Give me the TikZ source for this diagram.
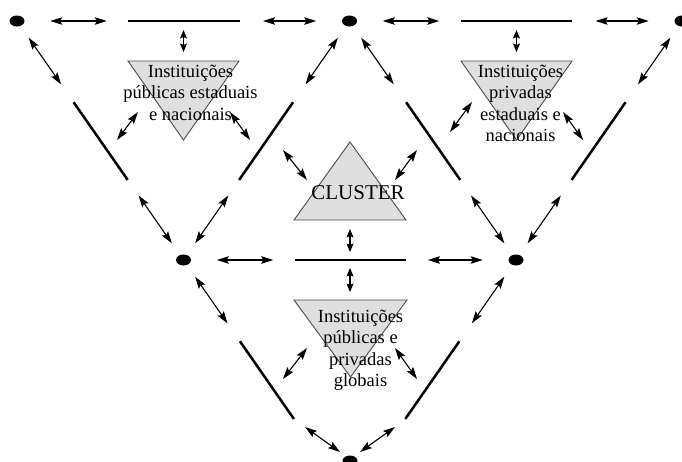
\documentclass[tikz,border=0pt]{standalone}
\usepackage{fontspec}
\setmainfont{Liberation Serif}
\usetikzlibrary{arrows.meta,calc,shapes.geometric}

\tikzset{
  link/.style={line width=1.1pt,{Stealth[length=12pt,width=7.5pt,inset=2pt]}-{Stealth[length=12pt,width=7.5pt,inset=2pt]}},
  shortlink/.style={line width=1.1pt,{Stealth[length=8.5pt,width=7pt,inset=1.5pt]}-{Stealth[length=8.5pt,width=7pt,inset=1.5pt]}},
  bar/.style={line width=2.5pt},
  vertex/.style={shape=ellipse,fill=black,inner sep=0pt,minimum width=15pt,minimum height=11pt},
  block/.style={fill=gray!25,draw=gray!60!black,line width=0.9pt,line join=miter},
  label/.style={font=\fontsize{18.5}{21.5}\selectfont,align=center,inner sep=0pt,anchor=north},
}

% one side of a triangle: arrow, bar, arrow at the given fractions
\newcommand\splitside[8]{%
  \draw[link] ($(#1)!#3!(#2)$) -- ($(#1)!#4!(#2)$);
  \draw[bar]  ($(#1)!#5!(#2)$) -- ($(#1)!#6!(#2)$);
  \draw[link] ($(#1)!#7!(#2)$) -- ($(#1)!#8!(#2)$);
}

\begin{document}
\begin{tikzpicture}[x=1pt,y=-1pt]
\useasboundingbox (0,0) rectangle (682,461);

% corner points of the grid
\node[vertex] (T1) at (17,21) {};
\node[vertex] (T2) at (349.5,21) {};
\node[vertex] (T3) at (682,21) {};
\node[vertex] (M1) at (183.5,260) {};
\node[vertex] (M2) at (516,260) {};
\node[vertex] (B)  at (350,461) {};
\coordinate (V) at (349.5,499);

% grey triangles
\draw[block] (128,61) -- (239,61) -- (183.5,140) -- cycle;
\draw[block] (461,61) -- (572,61) -- (516.5,140) -- cycle;
\draw[block] (294,220) -- (406,220) -- (350,142) -- cycle;
\draw[block] (294,300) -- (407,300) -- (350.5,377) -- cycle;

% labels
\node[label] (pub) at (190.5,64.4) {Instituições\\públicas estaduais\\e nacionais};
\node[label] (priv) at (520.5,64.4) {Instituições\\privadas\\estaduais e\\nacionais};
\node[label] (glob) at (360.5,309.4) {Instituições\\públicas e\\privadas\\globais};
\node[font=\fontsize{21}{24}\selectfont,inner sep=0pt,anchor=base] (cl) at (358,199) {CLUSTER};

% horizontal sides
\splitside{T1}{T2}{0.10}{0.27}{0.335}{0.67}{0.74}{0.90}
\splitside{T2}{T3}{0.10}{0.27}{0.335}{0.67}{0.74}{0.90}
\splitside{M1}{M2}{0.10}{0.27}{0.335}{0.67}{0.735}{0.90}

% slanted sides of the two upper triangles
\splitside{T1}{M1}{0.07}{0.265}{0.34}{0.665}{0.73}{0.93}
\splitside{T2}{M1}{0.07}{0.265}{0.34}{0.665}{0.73}{0.93}
\splitside{T2}{M2}{0.07}{0.265}{0.34}{0.665}{0.73}{0.93}
\splitside{T3}{M2}{0.07}{0.265}{0.34}{0.665}{0.73}{0.93}

% slanted sides of the lower triangle
\draw[link] ($(M1)!0.07!(V)$) -- ($(M1)!0.265!(V)$);
\draw[bar]  ($(M1)!0.34!(V)$) -- ($(M1)!0.665!(V)$);
\draw[link] ($(B)+(-45,-34)$) -- ($(B)+(-10,-9)$);
\draw[link] ($(M2)!0.07!(V)$) -- ($(M2)!0.265!(V)$);
\draw[bar]  ($(M2)!0.34!(V)$) -- ($(M2)!0.665!(V)$);
\draw[link] ($(B)+(45,-34)$) -- ($(B)+(10,-9)$);

% links between the triangles and the bars
\coordinate (a1) at (183.5,30);  \coordinate (a2) at (183.5,52);
\coordinate (b1) at (516.5,30);  \coordinate (b2) at (516.5,52);
\coordinate (c1) at (350,229);   \coordinate (c2) at (350,252);
\coordinate (d1) at (350,268);   \coordinate (d2) at (350,292);
\draw[shortlink] (a1) -- (a2);
\draw[shortlink] (b1) -- (b2);
\draw[shortlink] (c1) -- (c2);
\draw[shortlink] (d1) -- (d2);

\coordinate (e1) at (138,112);  \coordinate (e2) at (117,140);
\coordinate (f1) at (230,112);  \coordinate (f2) at (250,140);
\coordinate (g1) at (472,102);  \coordinate (g2) at (450,132);
\coordinate (h1) at (563,112);  \coordinate (h2) at (583,140);
\coordinate (i1) at (283,150);  \coordinate (i2) at (307,180);
\coordinate (j1) at (417,150);  \coordinate (j2) at (395,180);
\coordinate (k1) at (307,348);  \coordinate (k2) at (283,379);
\coordinate (l1) at (395,348);  \coordinate (l2) at (417,379);
\foreach \p in {e,f,g,h,i,j,k,l}
  \draw[link] (\p1) -- (\p2);
\end{tikzpicture}
\end{document}
